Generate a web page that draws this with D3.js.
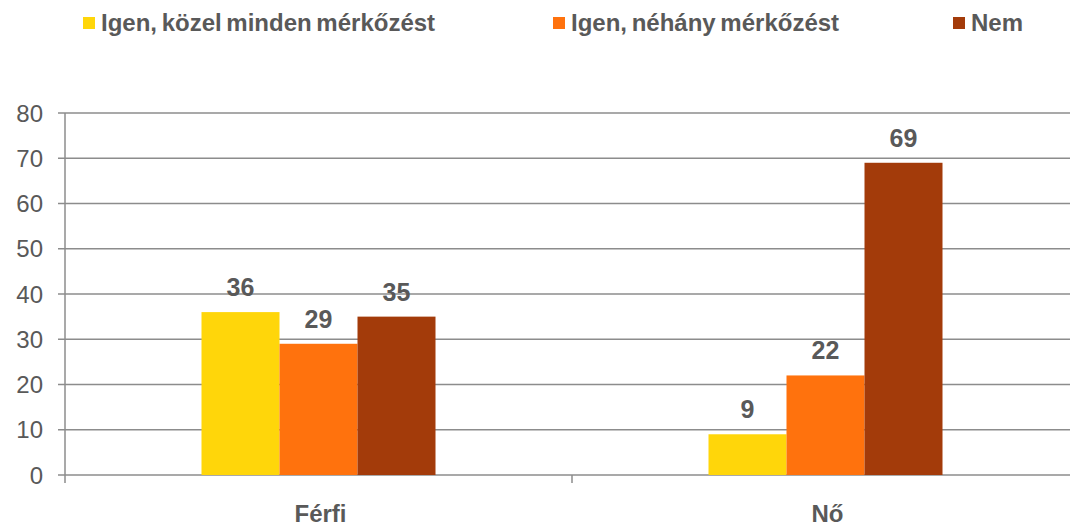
<!DOCTYPE html>
<html>
<head>
<meta charset="utf-8">
<script src="https://cdn.jsdelivr.net/npm/d3@7"></script>
<style>
  body { margin: 0; background: #fff; }
  text { font-family: "Liberation Sans", Arial, sans-serif; fill: #595959; }
</style>
</head>
<body>
<svg id="chart"></svg>
<script>
var categories = ["Férfi", "Nő"];
var seriesNames = ["Igen, közel minden mérkőzést", "Igen, néhány mérkőzést", "Nem"];
var seriesColors = ["#FFD60A", "#FF720D", "#A33B0A"];
var ferfiValues = [36, 29, 35];
var noValues = [9, 22, 69];
var yTicks = [0, 10, 20, 30, 40, 50, 60, 70, 80];

var w = 1070;
var h = 526;
var margin = { left: 65, right: -9, top: 113, bottom: 51 };

var svg = d3.select("#chart").attr("width", w).attr("height", h);

var rows = [ferfiValues, noValues];

var x0 = d3.scaleBand()
    .domain(categories)
    .range([margin.left, w - margin.right]);

var x1 = d3.scaleBand()
    .domain(seriesNames)
    .range([0, 234]);

var y = d3.scaleLinear()
    .domain([0, 80])
    .range([h - margin.bottom, margin.top]);

// gridlines
svg.append("g")
    .selectAll("line")
    .data(yTicks)
    .enter()
    .append("line")
    .attr("x1", margin.left - 7)
    .attr("x2", w - margin.right)
    .attr("y1", function (d) { return y(d); })
    .attr("y2", function (d) { return y(d); })
    .style("stroke", "#8c8c8c")
    .style("stroke-width", 1.5);

// y axis line
svg.append("line")
    .attr("x1", margin.left).attr("x2", margin.left)
    .attr("y1", y(80)).attr("y2", y(0))
    .style("stroke", "#8c8c8c")
    .style("stroke-width", 1.5);

// y tick labels
svg.append("g")
    .selectAll("text")
    .data(yTicks)
    .enter()
    .append("text")
    .attr("x", 43)
    .attr("y", function (d) { return y(d); })
    .attr("dy", "0.36em")
    .attr("text-anchor", "end")
    .style("font-size", "24px")
    .text(function (d) { return d; });

// category separator ticks
var sepX = [x0(categories[0]), x0(categories[1]), w - margin.right];
svg.append("g")
    .selectAll("line")
    .data(sepX)
    .enter()
    .append("line")
    .attr("x1", function (d) { return d; })
    .attr("x2", function (d) { return d; })
    .attr("y1", y(0))
    .attr("y2", y(0) + 8)
    .style("stroke", "#8c8c8c")
    .style("stroke-width", 1.5);

// bars
var groups = svg.selectAll(".group")
    .data(categories)
    .enter()
    .append("g")
    .attr("class", "group")
    .attr("transform", function (d) {
        return "translate(" + (x0(d) + (x0.bandwidth() - 234) / 2) + ",0)";
    });

groups.selectAll("rect")
    .data(function (d, i) {
        return rows[i].map(function (v, j) { return { key: seriesNames[j], value: v, color: seriesColors[j] }; });
    })
    .enter()
    .append("rect")
    .attr("x", function (d) { return x1(d.key); })
    .attr("width", x1.bandwidth())
    .attr("y", function (d) { return y(d.value); })
    .attr("height", function (d) { return y(0) - y(d.value); })
    .style("fill", function (d) { return d.color; });

groups.selectAll(".val")
    .data(function (d, i) {
        return rows[i].map(function (v, j) { return { key: seriesNames[j], value: v }; });
    })
    .enter()
    .append("text")
    .attr("class", "val")
    .attr("x", function (d) { return x1(d.key) + x1.bandwidth() / 2; })
    .attr("y", function (d) { return y(d.value) - 16; })
    .attr("text-anchor", "middle")
    .style("font-size", "25px")
    .style("font-weight", "bold")
    .text(function (d) { return d.value; });

// category labels
svg.append("g")
    .selectAll("text")
    .data(categories)
    .enter()
    .append("text")
    .attr("x", function (d) { return x0(d) + x0.bandwidth() / 2 + 2; })
    .attr("y", 522)
    .attr("text-anchor", "middle")
    .style("font-size", "24px")
    .style("font-weight", "bold")
    .text(function (d) { return d; });

// legend
var legendX = [83, 553, 953];
var legend = svg.selectAll(".legend")
    .data(seriesNames)
    .enter()
    .append("g")
    .attr("class", "legend")
    .attr("transform", function (d, i) { return "translate(" + legendX[i] + ",0)"; });

legend.append("rect")
    .attr("x", 0)
    .attr("y", 17)
    .attr("width", 12)
    .attr("height", 12)
    .style("fill", function (d, i) { return seriesColors[i]; });

legend.append("text")
    .attr("x", 18)
    .attr("y", 31)
    .style("font-size", "24px")
    .style("font-weight", "bold")
    .style("word-spacing", "-2px")
    .text(function (d) { return d; });
</script>
</body>
</html>
